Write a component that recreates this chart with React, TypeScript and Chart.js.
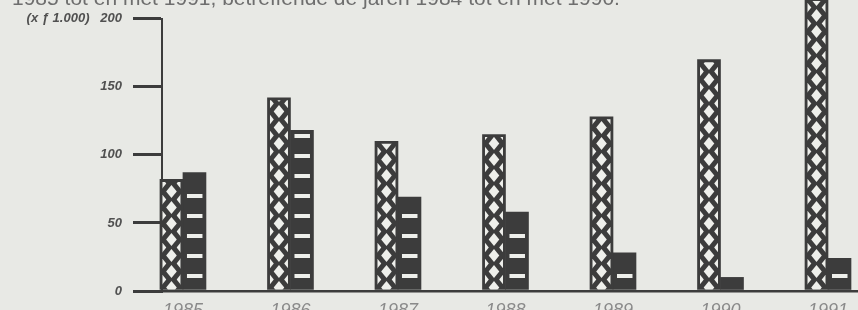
import React, { useEffect, useRef } from "react";
import { Chart, registerables } from "chart.js";

Chart.register(...registerables);

// ---- data ----
const categories = ["1985", "1986", "1987", "1988", "1989", "1990", "1991"];
const seriesCross = [82, 142, 110, 115, 128, 170, 215];
const seriesStriped = [87, 118, 69, 58, 28, 10, 24];
const yTickValues = [0, 50, 100, 150, 200];
const yUnitLabel = "(x ƒ 1.000)";
const titleText = "1985 tot en met 1991, betreffende de jaren 1984 tot en met 1990.";

// ---- styles ----
const INK = "#3c3c3c";
const PAPER = "#e8e9e5";
const LIGHT = "#eeefeb";
const FONT = "'Liberation Sans', Arial, sans-serif";

const patternPlugin = {
  id: "scanPatterns",
  afterDatasetsDraw(chart: any) {
    const ctx = chart.ctx;
    chart.data.datasets.forEach((ds: any, di: number) => {
      const meta = chart.getDatasetMeta(di);
      meta.data.forEach((bar: any) => {
        const { x, y, base, width } = bar.getProps(["x", "y", "base", "width"], true);
        const left = x - width / 2;
        const right = x + width / 2;
        const top = Math.min(y, base);
        const bottom = Math.max(y, base);
        ctx.save();
        ctx.beginPath();
        ctx.rect(left + 2.5, top + 2.5, width - 5, bottom - top - 2.5);
        ctx.clip();
        ctx.fillStyle = LIGHT;
        if (ds.pattern === "cross") {
          const P = 16;
          const hx = 5.3;
          const hy = 6.6;
          for (let k = 0; k < 200; k++) {
            const cy = bottom - 2 - (k * P) / 2;
            if (cy < top - P) break;
            const centers = k % 2 === 0 ? [x] : [left + 1, right - 1];
            centers.forEach((cx) => {
              ctx.beginPath();
              ctx.moveTo(cx, cy - hy);
              ctx.lineTo(cx + hx, cy);
              ctx.lineTo(cx, cy + hy);
              ctx.lineTo(cx - hx, cy);
              ctx.closePath();
              ctx.fill();
            });
          }
        } else {
          const P = 20;
          const h = 4;
          const off = 13.5;
          for (let k = 0; k < 100; k++) {
            const cy = bottom - off - k * P;
            if (cy - h / 2 < top + 3) break;
            ctx.fillRect(left + 4, cy - h / 2, width - 7.5, h);
          }
        }
        ctx.restore();
      });
    });
  },
};

export default function App() {
  const canvasRef = useRef<HTMLCanvasElement | null>(null);

  useEffect(() => {
    document.body.style.margin = "0";
    const canvas = canvasRef.current;
    if (!canvas) return;
    const chart = new Chart(canvas, {
      type: "bar",
      data: {
        labels: categories,
        datasets: [
          {
            label: "reeks 1",
            data: seriesCross,
            backgroundColor: INK,
            borderWidth: 0,
            barThickness: 23,
            clip: false,
            pattern: "cross",
          } as any,
          {
            label: "reeks 2",
            data: seriesStriped,
            backgroundColor: INK,
            borderWidth: 0,
            barThickness: 23,
            clip: false,
            pattern: "striped",
          } as any,
        ],
      },
      options: {
        responsive: false,
        animation: false,
        layout: { padding: { top: 13, left: 0, right: 0, bottom: 0 } },
        plugins: {
          legend: { display: false },
          tooltip: { enabled: false },
          title: { display: false },
        },
        scales: {
          x: {
            type: "linear",
            min: 1984.805,
            max: 1991.279,
            offset: false,
            grid: { display: false, drawTicks: false },
            border: { display: true, color: INK, width: 2.5 },
            afterBuildTicks: (s: any) => {
              s.ticks = categories.map((c) => ({ value: Number(c) }));
            },
            afterFit: (s: any) => {
              s.height = 19;
            },
            ticks: {
              autoSkip: false,
              maxRotation: 0,
              padding: 9.5,
              color: "#8a8a8a",
              font: { family: FONT, size: 18, style: "italic" },
              callback: (v: any) => categories.find((c) => Number(c) === v) ?? "",
            },
          },
          y: {
            min: 0,
            max: 200,
            afterBuildTicks: (s: any) => {
              s.ticks = yTickValues.map((v) => ({ value: v }));
            },
            afterFit: (s: any) => {
              s.width = 162;
            },
            grid: {
              display: true,
              drawOnChartArea: false,
              drawTicks: true,
              tickLength: 29,
              lineWidth: 3,
              color: INK,
            },
            border: { display: true, color: INK, width: 2 },
            ticks: {
              padding: 11,
              color: "#505050",
              font: { family: FONT, size: 13, style: "italic", weight: "bold" },
              callback: (v: any) =>
                v === yTickValues[yTickValues.length - 1] ? `${yUnitLabel}   ${v}` : String(v),
            },
          },
        } as any,
      },
      plugins: [patternPlugin],
    });
    return () => chart.destroy();
  }, []);

  return (
    <div
      style={{
        position: "fixed",
        left: 0,
        top: 0,
        width: 858,
        height: 310,
        overflow: "hidden",
        background: PAPER,
      }}
    >
      <canvas ref={canvasRef} width={858} height={310} style={{ position: "absolute", left: 0, top: 0 }} />
      <div
        style={{
          position: "absolute",
          left: 12,
          top: -13,
          fontFamily: FONT,
          fontSize: 21,
          lineHeight: "21px",
          color: "#6e6e6e",
          whiteSpace: "nowrap",
          zIndex: 2,
        }}
      >
        {titleText}
      </div>
    </div>
  );
}
